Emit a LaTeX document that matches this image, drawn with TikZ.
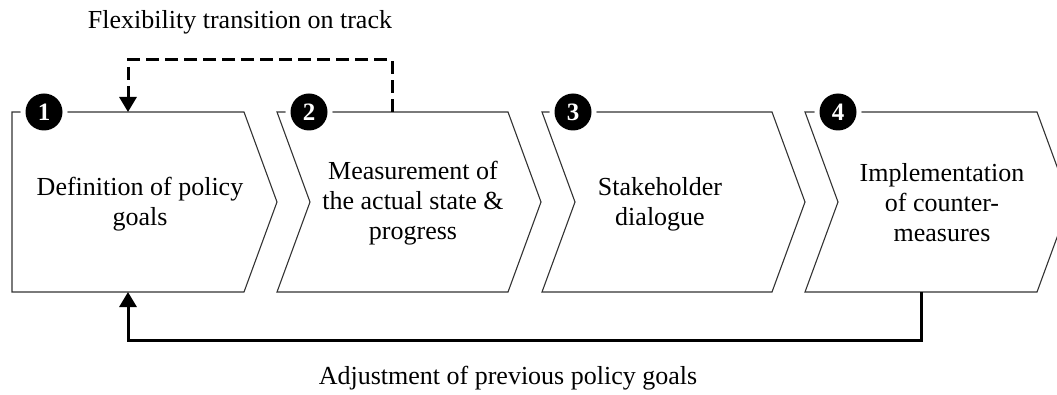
\documentclass[tikz,border=0pt]{standalone}
\usepackage{fontspec}
\setmainfont{Liberation Serif}
\usetikzlibrary{arrows.meta}
\begin{document}
\begin{tikzpicture}[x=1pt,y=-1pt,
  chev/.style={draw=black!80,line width=1.1pt,fill=white},
  lbl/.style={align=center,font=\fontsize{26}{30}\selectfont,text=black},
  captxt/.style={font=\fontsize{26}{30}\selectfont,text=black},
  num/.style={circle,fill=black,preaction={draw=white,line width=10pt},minimum size=37pt,inner sep=0pt,text=white,font=\fontsize{25}{25}\selectfont\bfseries},
  conn/.style={line width=3pt,-{Triangle[length=15pt,width=17pt]}},
  dconn/.style={conn,dash pattern=on 13pt off 6pt}]
\useasboundingbox (0,0) rectangle (1057,395);
\clip (0,0) rectangle (1057,395);
% chevrons
\draw[chev] (12,112) -- (244,112) -- (277,202) -- (244,292) -- (12,292) -- cycle;
\draw[chev] (277,112) -- (508,112) -- (541,202) -- (508,292) -- (277,292) -- (310,202) -- cycle;
\draw[chev] (542,112) -- (772,112) -- (805,202) -- (772,292) -- (542,292) -- (575,202) -- cycle;
\draw[chev] (805,112) -- (1037,112) -- (1070,202) -- (1037,292) -- (805,292) -- (838,202) -- cycle;
% texts
\node[lbl] (t1) at (140,204) {Definition of policy\\goals};
\node[lbl] (t2) at (413,203) {Measurement of\\the actual state \&\\progress};
\node[lbl] (t3) at (660,204) {Stakeholder\\dialogue};
\node[lbl] (t4) at (942,203) {Implementation\\of counter-\\measures};
% numbers
\node[num] (n1) at (44,112) {1};
\node[num] (n2) at (309,112) {2};
\node[num] (n3) at (573,112) {3};
\node[num] (n4) at (838,112) {4};
% connector points
\coordinate (s1top) at (128,112);
\coordinate (s2top) at (392,112);
\coordinate (s1bot) at (128,292);
\coordinate (s4bot) at (921,292);
% top dashed
\draw[dconn] (s2top) |- (260,60) -| (s1top);
% bottom feedback
\draw[conn] (s4bot) |- (520,340) -| (s1bot);
% captions
\node[captxt] (c1) at (240,22) {Flexibility transition on track};
\node[captxt] (c2) at (508,378) {Adjustment of previous policy goals};
\end{tikzpicture}
\end{document}
